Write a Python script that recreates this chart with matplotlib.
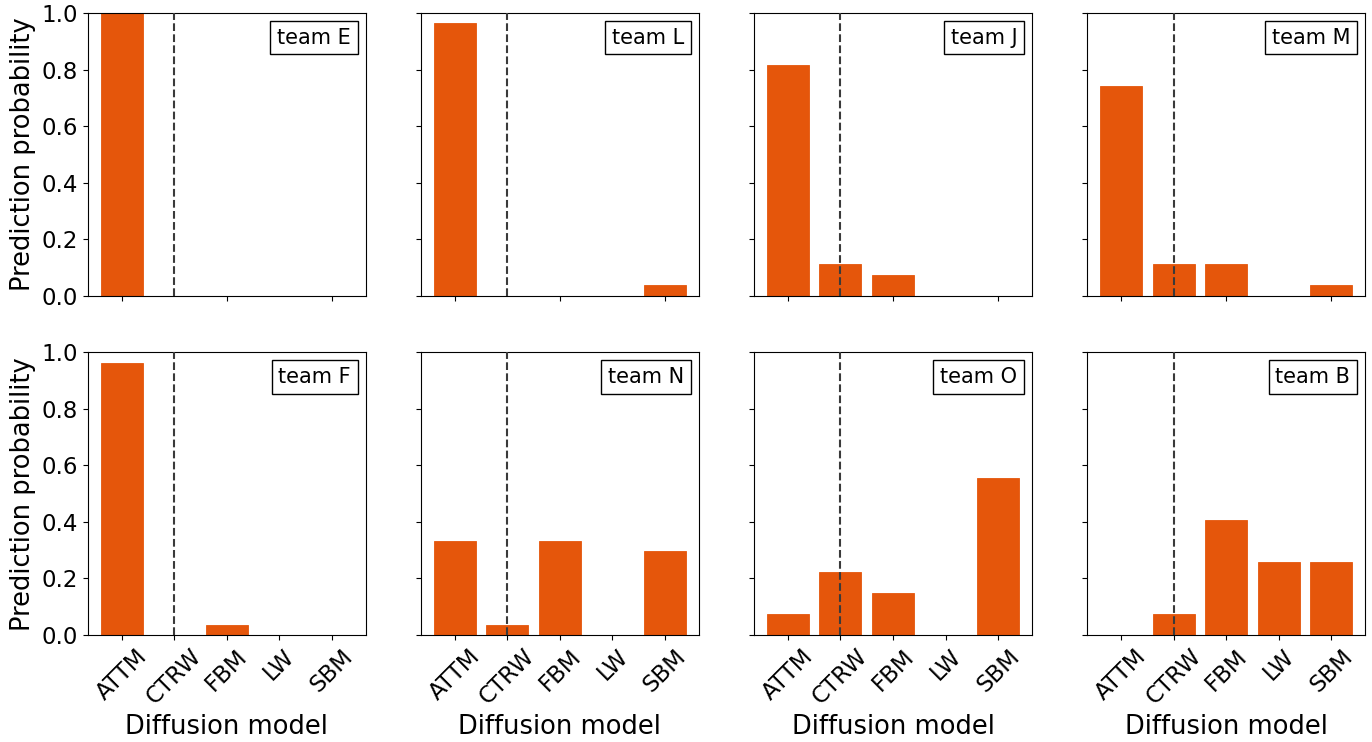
import matplotlib
matplotlib.use("Agg")
import matplotlib.pyplot as plt
import numpy as np

models = ["ATTM", "CTRW", "FBM", "LW", "SBM"]
teams = ["team E", "team L", "team J", "team M",
         "team F", "team N", "team O", "team B"]
team_E = [1.000, 0.0, 0.0, 0.0, 0.0]
team_L = [0.963, 0.0, 0.0, 0.0, 0.037]
team_J = [0.815, 0.111, 0.074, 0.0, 0.0]
team_M = [0.741, 0.111, 0.111, 0.0, 0.037]
team_F = [0.963, 0.0, 0.037, 0.0, 0.0]
team_N = [0.333, 0.037, 0.333, 0.0, 0.296]
team_O = [0.074, 0.222, 0.148, 0.0, 0.556]
team_B = [0.0, 0.074, 0.407, 0.259, 0.259]
values = [team_E, team_L, team_J, team_M, team_F, team_N, team_O, team_B]
true_model = "CTRW"

bar_color = "#E5560B"

fig, axes = plt.subplots(2, 4, figsize=(13.72, 7.42), dpi=100, sharey=True)
fig.subplots_adjust(left=0.0641, right=0.9949, top=0.9825, bottom=0.1442,
                    wspace=0.2, hspace=0.2)

x = np.arange(len(models))
for i, ax in enumerate(axes.flat):
    ax.bar(x, values[i], width=0.8, color=bar_color, edgecolor=bar_color,
           linewidth=0.6, zorder=2)
    ax.axvline(models.index(true_model), color="#3a3a3a", ls="--", lw=1.5,
               zorder=3)
    ax.set_ylim(0, 1.0)
    ax.set_yticks([0, 0.2, 0.4, 0.6, 0.8, 1.0])
    ax.tick_params(labelsize=16.5)
    ax.text(0.947, 0.948, teams[i], transform=ax.transAxes, ha="right",
            va="top", fontsize=15,
            bbox=dict(boxstyle="square,pad=0.32", fc="white", ec="black",
                      lw=1.0))
    row, col = divmod(i, 4)
    if row == 0:
        ax.set_xticks([0, 2, 4])
        ax.set_xticklabels([])
    else:
        ax.set_xticks(x)
        ax.set_xticklabels(models, rotation=45, ha="center")
        ax.set_xlabel("Diffusion model", fontsize=18.5)
    if col == 0:
        ax.set_ylabel("Prediction probability", fontsize=18.5)

fig.savefig("out.png", dpi=100)
